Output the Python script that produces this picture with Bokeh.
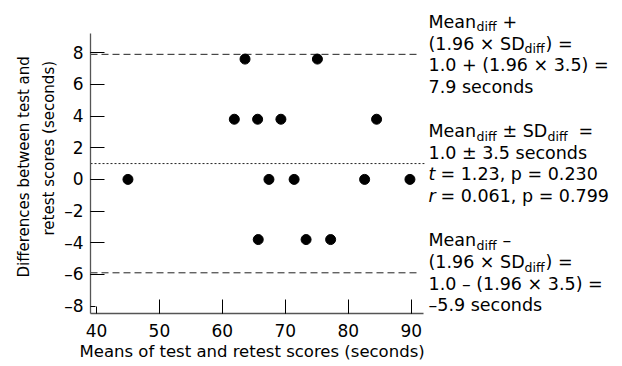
from bokeh.plotting import figure
from bokeh.models import Range1d, Label, FixedTicker, Title
from bokeh.embed import file_html
from bokeh.resources import INLINE

# ---- data ----
means = [45.0, 63.6, 75.1, 61.9, 65.6, 69.3, 84.5, 67.4, 71.4, 82.6, 89.8, 65.7, 73.3, 77.2]
diffs = [0.0, 7.6, 7.6, 3.8, 3.8, 3.8, 3.8, 0.0, 0.0, 0.0, 0.0, -3.8, -3.8, -3.8]
mean_diff = 1.0
sd_diff = 3.5
upper_limit = 7.9
lower_limit = -5.9
x_ticks = [40, 50, 60, 70, 80, 90]
y_ticks = [-8, -6, -4, -2, 0, 2, 4, 6, 8]
x_label = "Means of test and retest scores (seconds)"
y_label_lines = ["Differences between test and", "retest scores (seconds)"]

FONT = "DejaVu Sans"
FS_TICK = "17px"
FS_AXIS = "16.5px"
FS_YLAB = "15px"
FS = "17.5px"
SUB = "12.5px"

X0, X1 = 39.05, 123.57
Y0, Y1 = -8.47, 11.30

p = figure(width=622, height=366, output_backend="svg", toolbar_location=None,
           x_range=Range1d(X0, X1), y_range=Range1d(Y0, Y1),
           min_border_left=90, min_border_right=0, min_border_top=0, min_border_bottom=53)
p.outline_line_color = None
p.xgrid.visible = False
p.ygrid.visible = False

# reference lines
p.segment(x0=[X0, X0], y0=[upper_limit, lower_limit], x1=[91.1, 91.1], y1=[upper_limit, lower_limit],
          line_color="#222222", line_width=1, line_dash="7 4")
p.segment(x0=[X0], y0=[mean_diff], x1=[92.1], y1=[mean_diff],
          line_color="#222222", line_width=1, line_dash="2 2")

p.scatter(means, diffs, size=10, color="black")

for ax, ticks, short, long_ in ((p.xaxis[0], x_ticks, 7, 14),
                                (p.yaxis[0], y_ticks, 5, 14)):
    ax.ticker = FixedTicker(ticks=ticks, minor_ticks=ticks[1:])
    ax.major_tick_in = short
    ax.major_tick_out = 0
    ax.minor_tick_in = long_
    ax.minor_tick_out = 0
    ax.major_tick_line_color = "black"
    ax.minor_tick_line_color = "black"
    ax.axis_line_color = "#555555"
    ax.axis_line_width = 1.3
    ax.major_label_text_font = FONT
    ax.major_label_text_font_size = FS_TICK
    ax.major_label_text_color = "black"
    ax.major_label_overrides = {t: (("\u2013" + str(-t)) if t < 0 else str(t)) for t in ticks}

p.xaxis[0].bounds = (X0, 91.96)
p.yaxis[0].bounds = (Y0, 9.24)
p.xaxis[0].major_label_standoff = 10
p.yaxis[0].major_label_standoff = 7

p.add_layout(Title(text=x_label, align="left", offset=-11, standoff=0,
                   text_font=FONT, text_font_size=FS_AXIS, text_font_style="normal",
                   text_color="black"), "below")

# y label: two lines, inner line first
for line_text, so, off in ((y_label_lines[1], 7, 78), (y_label_lines[0], 4, 36)):
    p.add_layout(Title(text=line_text, align="left", offset=off, standoff=so,
                       text_font=FONT, text_font_size=FS_YLAB, text_font_style="normal",
                       text_color="black"), "left")

TX = 92.75
LINE_OFFS = [32.5, 10.8, -10.8, -32.5]
SUB_DY = -5

def piece(anchor, line, dx, text, size=FS, dy=0, style="normal"):
    p.add_layout(Label(x=TX, y=anchor, x_offset=dx, y_offset=LINE_OFFS[line] + dy,
                       text=text, text_font=FONT, text_font_size=size, text_font_style=style,
                       text_color="black", text_baseline="middle", text_align="left"))

# upper block
piece(upper_limit, 0, 0, "Mean")
piece(upper_limit, 0, 48, "diff", SUB, SUB_DY)
piece(upper_limit, 0, 74, "+")
piece(upper_limit, 1, 0, "(1.96 \u00d7 SD")
piece(upper_limit, 1, 96, "diff", SUB, SUB_DY)
piece(upper_limit, 1, 117, ") =")
piece(upper_limit, 2, 0, "1.0 + (1.96 \u00d7 3.5) =")
piece(upper_limit, 3, 0, "7.9 seconds")

# middle block
piece(mean_diff, 0, 0, "Mean")
piece(mean_diff, 0, 48, "diff", SUB, SUB_DY)
piece(mean_diff, 0, 74, "\u00b1 SD")
piece(mean_diff, 0, 119, "diff", SUB, SUB_DY)
piece(mean_diff, 0, 150, "=")
piece(mean_diff, 1, 0, "1.0 \u00b1 3.5 seconds")
piece(mean_diff, 2, 0, "t", style="italic")
piece(mean_diff, 2, 12, "= 1.23, p = 0.230")
piece(mean_diff, 3, 0, "r", style="italic")
piece(mean_diff, 3, 12, "= 0.061, p = 0.799")

# lower block
piece(lower_limit, 0, 0, "Mean")
piece(lower_limit, 0, 48, "diff", SUB, SUB_DY)
piece(lower_limit, 0, 74, "\u2013")
piece(lower_limit, 1, 0, "(1.96 \u00d7 SD")
piece(lower_limit, 1, 96, "diff", SUB, SUB_DY)
piece(lower_limit, 1, 117, ") =")
piece(lower_limit, 2, 0, "1.0 \u2013 (1.96 \u00d7 3.5) =")
piece(lower_limit, 3, 0, "\u20135.9 seconds")

open("out.html", "w").write(file_html(p, INLINE))
